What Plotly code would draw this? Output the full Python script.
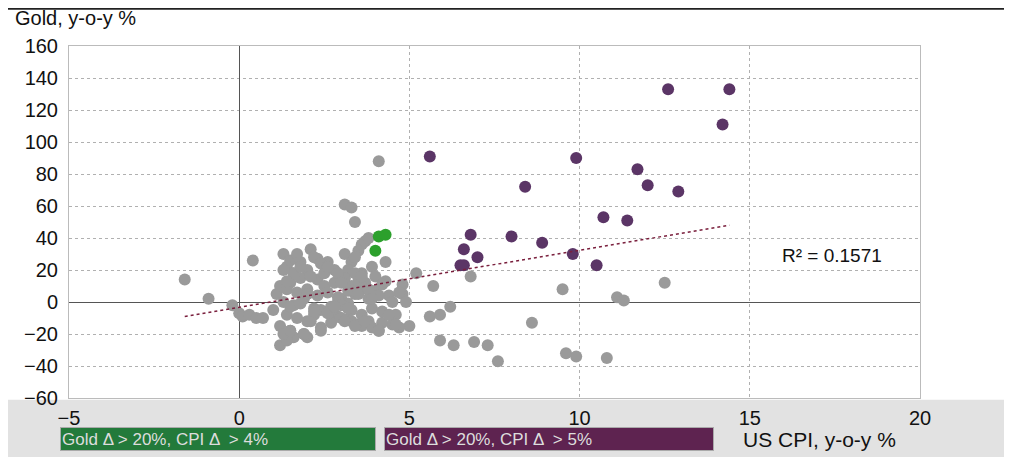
import plotly.graph_objects as go

grey_x = [-1.6,-0.9,-0.2,0.0,0.1,0.3,0.5,0.4,0.7,4.1,3.1,3.3,3.4,12.5,11.1,11.3,9.5,8.6,9.6,9.9,10.8,7.6,7.3,6.9,6.3,5.9,6.2,5.6,5.9,6.8,5.2,5.7,4.8,4.8,4.3,4.5,4.6,5.0,
          1.3,1.5,1.7,2.1,2.3,1.8,2.0,1.4,1.6,2.2,2.6,3.1,3.3,3.5,3.6,3.7,3.8,3.4,3.2,3.6,3.9,
          1.1,1.3,1.6,1.9,2.4,2.7,2.9,3.0,3.2,3.4,3.6,4.0,4.4,1.2,1.5,1.8,2.0,2.3,2.5,2.8,3.1,3.3,3.5,3.7,
          1.0,1.4,1.7,2.0,2.2,2.6,2.9,3.2,3.5,3.8,4.2,4.7,1.2,1.5,1.9,2.4,2.7,3.0,3.3,3.6,3.9,4.1,4.6,
          1.3,1.6,1.8,2.1,2.5,2.8,3.1,3.4,3.7,4.0,4.3,1.4,1.7,2.0,2.3,2.6,2.9,3.2,3.5,3.8,4.1,4.5,
          1.5,1.8,2.2,2.7,3.0,3.3,3.6,3.9,4.2,1.6,2.0,2.4,3.1,3.4,3.7,4.4,1.2,1.4,1.9,2.1,2.6,3.2,
          1.3,1.5,1.4,2.4,2.6,2.9,3.6,3.8,4.2,4.7,4.9,3.0,3.9,4.1,2.8,2.2]
grey_y = [14,2,-2,-7,-9,-8,-10,26,-10,88,61,59,50,12,3,1,8,-13,-32,-34,-35,-37,-27,-25,-27,-24,-3,-9,-8,16,18,10,5,11,25,-14,-8,-15,
          30,26,30,33,27,25,20,22,18,28,25,30,25,32,36,38,40,28,20,18,22,
          5,0,-2,2,-5,-3,0,2,-1,5,8,7,4,10,12,15,8,14,10,12,15,10,13,9,
          -5,-8,-10,-12,-8,-6,-9,-11,-14,-12,-13,-16,-15,-18,-20,-16,-13,-10,-12,-15,-16,-18,-14,
          20,18,22,16,18,20,15,18,12,16,13,8,6,5,4,6,3,7,5,2,4,0,
          -3,-1,-4,-6,-2,-5,-8,-4,-6,-22,-22,-18,-12,-15,-12,-8,-27,-24,-20,-12,-7,-4,
          -20,-18,13,24,22,18,16,8,11,6,0,12,2,-18,-3,-6]
green_x = [4.1,4.3,4.0]
green_y = [41,42,32]
purple_x = [5.6,9.9,8.4,11.7,12.0,12.9,12.6,14.4,14.2,10.7,11.4,6.8,8.0,8.9,6.6,9.8,7.0,6.5,6.6,10.5]
purple_y = [91,90,72,83,73,69,133,133,111,53,51,42,41,37,33,30,28,23,23,23]
trend_x = [-1.6, 14.4]
trend_y = [-9, 48]
x_ticks = [-5, 0, 5, 10, 15, 20]
y_ticks = list(range(-60, 161, 20))

fig = go.Figure()
mk = dict(size=12)
fig.add_trace(go.Scatter(x=grey_x, y=grey_y, mode="markers", marker=dict(color="#9a9a9a", **mk)))
fig.add_trace(go.Scatter(x=green_x, y=green_y, mode="markers", marker=dict(color="#2ca02c", **mk)))
fig.add_trace(go.Scatter(x=purple_x, y=purple_y, mode="markers", marker=dict(color="#5b3566", **mk)))
fig.add_trace(go.Scatter(x=trend_x, y=trend_y, mode="lines", line=dict(color="#7a1f3d", width=1.5, dash="dot")))

ax = dict(showgrid=True, gridcolor="#b0b0b0", griddash="dot", zeroline=True, zerolinecolor="#555", zerolinewidth=1,
          showline=True, linecolor="#bbb", mirror=True, automargin=False,
          tickfont=dict(size=20, color="#111", family="Arial"))
fig.update_xaxes(range=[-5, 20], tickvals=x_ticks, ticklen=0, ticklabelstandoff=2, **ax)
fig.update_yaxes(range=[-60, 160], tickvals=y_ticks, ticklen=0, ticklabelstandoff=6, **ax)

fig.update_layout(width=1004, height=449, showlegend=False, plot_bgcolor="white", paper_bgcolor="white",
                  margin=dict(l=61, r=92, t=38, b=59), font=dict(family="Arial"))
fig.add_shape(type="rect", xref="paper", yref="paper", x0=-0.1, x1=1.15, y0=-0.17, y1=-0.005, layer="below",
              fillcolor="#e2e2e2", line_width=0)
fig.add_shape(type="line", xref="paper", yref="paper", x0=-0.1, x1=1.15, y0=1.106, y1=1.106, line=dict(color="#222", width=2))
fig.add_annotation(text="Gold, y-o-y %", xref="paper", yref="paper", x=-0.066, y=1.08, xanchor="left", yanchor="middle",
                   showarrow=False, font=dict(size=20, color="#111"))
fig.add_annotation(text="R² = 0.1571", x=15.9, y=29, xanchor="left", showarrow=False, font=dict(size=19, color="#111"),
                   bgcolor="white")
fig.add_annotation(text="Gold Δ > 20%, CPI Δ  > 4%", xref="paper", yref="paper", x=-0.011, y=-0.082, xanchor="left",
                   yanchor="top", showarrow=False, bgcolor="#237a3b", bordercolor="#aaa", font=dict(size=17, color="#ddd"),
                   width=312, height=20, align="left")
fig.add_annotation(text="Gold Δ > 20%, CPI Δ  > 5%", xref="paper", yref="paper", x=0.37, y=-0.082, xanchor="left",
                   yanchor="top", showarrow=False, bgcolor="#5e2350", bordercolor="#aaa", font=dict(size=17, color="#ddd"),
                   width=326, height=20, align="left")
fig.add_annotation(text="US CPI, y-o-y %", xref="paper", yref="paper", x=0.79, y=-0.119, xanchor="left",
                   yanchor="middle", showarrow=False, font=dict(size=21, color="#111"))
fig.write_html("out.html")
